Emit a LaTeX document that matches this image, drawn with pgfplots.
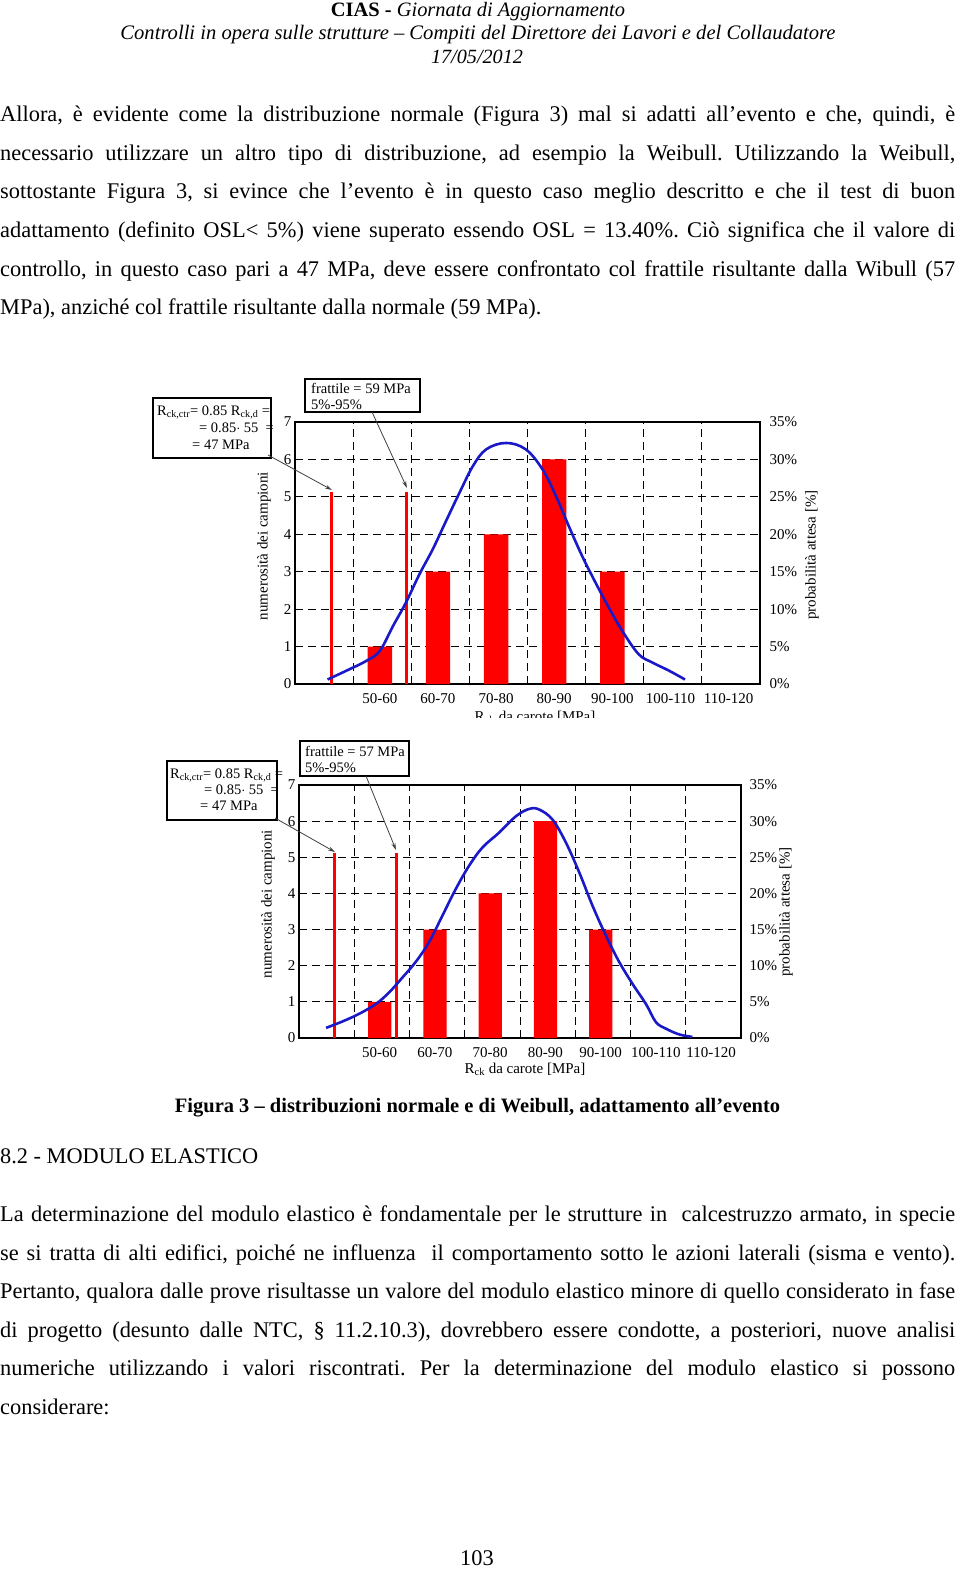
\documentclass[border=0pt]{standalone}
\usepackage{graphicx}
\usepackage{pgfplots}
\pgfplotsset{compat=1.18}
\usepackage{fontspec}
\setmainfont{Liberation Serif}
\usetikzlibrary{arrows.meta}
\frenchspacing
\definecolor{cblue}{RGB}{25,25,200}
\definecolor{cred}{RGB}{255,0,0}
\newcommand{\BL}[2]{\node[anchor=base west,inner sep=0pt] at (0,#1) {\fontsize{22.4}{26}\selectfont\makebox[955pt][s]{#2}};}
\newcommand{\NL}[2]{\node[anchor=base west,inner sep=0pt] at (0,#1) {\fontsize{22.4}{26}\selectfont #2};}
\newcommand{\tf}{\fontsize{15}{17}\selectfont}
\newcommand{\bxf}{\fontsize{14.5}{16}\selectfont}

\pgfplotsset{
  chart/.style={
    scale only axis, xmin=40, xmax=120, ymin=0, ymax=7,
    axis line style={line width=1.3pt, black},
    xtick={50,60,...,110}, xticklabels={},
    xmajorgrids, ymajorgrids,
    grid style={black, line width=1pt, dash pattern=on 8pt off 5pt},
    ytick={0,1,...,7}, yticklabels={0,1,2,3,4,5,6,7},
    major tick length=0pt,
    tick label style={font=\tf},
    xticklabel style={yshift=-6pt},
    extra x tick style={grid=none, major tick length=0pt},
    extra x tick labels={50-60,60-70,70-80,80-90,90-100,100-110,110-120},
  },
  rchart/.style={
    scale only axis, xmin=40, xmax=120, ymin=0, ymax=35,
    axis x line=none, axis y line*=right,
    axis line style={line width=1.3pt, black},
    ytick={0,5,...,35}, yticklabels={0\%,5\%,10\%,15\%,20\%,25\%,30\%,35\%},
    major tick length=0pt,
    tick label style={font=\tf},
  },
}

\begin{document}
\begin{tikzpicture}
\useasboundingbox (0,0) rectangle (960pt,-1574pt);
\fill[white] (0,0) rectangle (960pt,-1574pt);

% ---------- Chart 1 (normale) ----------
\begin{axis}[chart, at={(295pt,-684pt)}, anchor=south west, width=465pt, height=262pt,
  extra x ticks={54.6,64.6,74.6,84.6,94.6,104.6,114.6}]
\addplot[ybar, bar width=4.2, fill=cred, draw=none] coordinates {(54.6,1) (64.6,3) (74.6,4) (84.6,6) (94.6,3)};
\addplot[cred, line width=3pt] coordinates {(46.3,0) (46.3,5.14)};
\addplot[cred, line width=3pt] coordinates {(59.1,0) (59.1,5.14)};
\addplot[cblue, line width=2.6pt, smooth, tension=0.6] coordinates {
(45.6,0.12) (48.9,0.36) (52.3,0.62) (54.6,0.89) (56.9,1.56) (59.1,2.18) (61.4,2.93) (63.7,3.60)
(66.0,4.36) (68.3,5.11) (70.6,5.82) (72.9,6.27) (76.3,6.44) (79.7,6.27) (82.6,5.73) (84.9,5.02)
(87.1,4.22) (89.4,3.42) (91.7,2.71) (94.0,2.04) (96.3,1.42) (99.1,0.80) (101.4,0.58) (104.3,0.36)
(107.1,0.12)};
\end{axis}
\begin{axis}[rchart, at={(295pt,-684pt)}, anchor=south west, width=465pt, height=262pt,
  yticklabel style={xshift=6pt}]
\end{axis}

% ---------- Chart 2 (Weibull) ----------
\begin{axis}[chart, at={(299pt,-1038pt)}, anchor=south west, width=442pt, height=253pt,
  extra x ticks={54.6,64.6,74.6,84.6,94.6,104.6,114.6}]
\addplot[ybar, bar width=4.2, fill=cred, draw=none] coordinates {(54.6,1) (64.6,3) (74.6,4) (84.6,6) (94.6,3)};
\addplot[cred, line width=3pt] coordinates {(46.4,0) (46.4,5.13)};
\addplot[cred, line width=3pt] coordinates {(57.7,0) (57.7,5.13)};
\addplot[cblue, line width=2.6pt, smooth, tension=0.6] coordinates {
(44.9,0.28) (47.9,0.46) (50.9,0.67) (53.9,0.94) (56.3,1.26) (58.7,1.67) (61.2,2.12) (63.6,2.67)
(66.0,3.40) (68.4,4.13) (70.8,4.77) (73.2,5.27) (76.2,5.68) (79.3,6.14) (81.7,6.34) (83.5,6.32)
(85.9,6.04) (88.3,5.41) (90.7,4.59) (93.1,3.67) (95.5,2.85) (97.9,2.12) (100.4,1.49) (102.8,0.94)
(104.6,0.44) (106.4,0.26) (108.8,0.10) (111.2,0.03)};
\end{axis}
\begin{axis}[rchart, at={(299pt,-1038pt)}, anchor=south west, width=442pt, height=253pt,
  yticklabel style={xshift=5pt}]
\end{axis}

\begin{scope}[x=1pt,y=-1pt]
% header
\node[anchor=base,inner sep=0pt] at (478,16.5) {\resizebox{294pt}{!}{\textbf{CIAS -} \textit{Giornata di Aggiornamento}}};
\node[anchor=base,inner sep=0pt] at (478,40) {\resizebox{715pt}{!}{\textit{Controlli in opera sulle strutture – Compiti del Direttore dei Lavori e del Collaudatore}}};
\node[anchor=base,inner sep=0pt] at (477,63) {\resizebox{92pt}{!}{\textit{17/05/2012}}};
% paragraph 1
\BL{121.5}{Allora, è evidente come la distribuzione normale (Figura 3) mal si adatti all’evento e che, quindi, è}
\BL{160}{necessario utilizzare un altro tipo di distribuzione, ad esempio la Weibull. Utilizzando la Weibull,}
\BL{198.5}{sottostante Figura 3, si evince che l’evento è in questo caso meglio descritto e che il test di buon}
\BL{237}{adattamento (definito OSL< 5\%) viene superato essendo OSL = 13.40\%. Ciò significa che il valore di}
\BL{276}{controllo, in questo caso pari a 47 MPa, deve essere confrontato col frattile risultante dalla Wibull (57}
\NL{314.5}{MPa), anziché col frattile risultante dalla normale (59 MPa).}

% chart 1 annotations
\node[rotate=90,inner sep=0pt,font=\tf] at (264,546) {numerosità dei campioni};
\node[rotate=90,inner sep=0pt,font=\tf] at (812,555) {probabilità attesa [\%]};
\node[anchor=base,inner sep=0pt,font=\tf] at (535,721) {R\textsubscript{ck} da carote [MPa]};
\fill[white] (280,718) rectangle (800,735);
\draw[line width=1.2pt, fill=white] (153,398) rectangle (271,458);
\node[anchor=base west,inner sep=0pt,font=\bxf] at (157,415) {R\textsubscript{ck,ctr}= 0.85 R\textsubscript{ck,d} =};
\node[anchor=base east,inner sep=0pt,font=\bxf] at (274,432) {= 0.85$\cdot$ 55 \ =};
\node[anchor=base west,inner sep=0pt,font=\bxf] at (192,449) {= 47 MPa};
\draw[line width=1.2pt, fill=white] (305,379) rectangle (420,412);
\node[anchor=base west,inner sep=0pt,font=\bxf] at (311,393) {frattile = 59 MPa};
\node[anchor=base west,inner sep=0pt,font=\bxf] at (311,409) {5\%-95\%};
\draw[line width=0.8pt, black!75, -{Stealth[length=7pt,width=4pt]}] (268,455) -- (332,490);
\draw[line width=0.8pt, black!75, -{Stealth[length=7pt,width=4pt]}] (372,412) -- (407,488);

% chart 2 annotations
\node[rotate=90,inner sep=0pt,font=\tf] at (268,904) {numerosità dei campioni};
\node[rotate=90,inner sep=0pt,font=\tf] at (786,912) {probabilità attesa [\%]};
\node[anchor=base,inner sep=0pt,font=\tf] at (525,1073) {R\textsubscript{ck} da carote [MPa]};
\draw[line width=1.2pt, fill=white] (167,761) rectangle (277,820);
\node[anchor=base west,inner sep=0pt,font=\bxf] at (170,778) {R\textsubscript{ck,ctr}= 0.85 R\textsubscript{ck,d} =};
\node[anchor=base east,inner sep=0pt,font=\bxf] at (279,794) {= 0.85$\cdot$ 55 \ =};
\node[anchor=base west,inner sep=0pt,font=\bxf] at (200,810) {= 47 MPa};
\draw[line width=1.2pt, fill=white] (300,741) rectangle (409,776);
\node[anchor=base west,inner sep=0pt,font=\bxf] at (305,756) {frattile = 57 MPa};
\node[anchor=base west,inner sep=0pt,font=\bxf] at (305,772) {5\%-95\%};
\draw[line width=0.8pt, black!75, -{Stealth[length=7pt,width=4pt]}] (275,818) -- (335,852);
\draw[line width=0.8pt, black!75, -{Stealth[length=7pt,width=4pt]}] (366,776) -- (396,850);

% caption and section
\node[anchor=base,inner sep=0pt] at (477.5,1112) {\resizebox{605pt}{!}{\textbf{Figura 3 – distribuzioni normale e di Weibull, adattamento all’evento}}};
\node[anchor=base west,inner sep=0pt] at (0,1163) {\resizebox{258pt}{!}{8.2 - MODULO ELASTICO}};
% paragraph 2
\BL{1221.5}{La determinazione del modulo elastico è fondamentale per le strutture in \ calcestruzzo armato, in specie}
\BL{1260}{se si tratta di alti edifici, poiché ne influenza \ il comportamento sotto le azioni laterali (sisma e vento).}
\BL{1298.5}{Pertanto, qualora dalle prove risultasse un valore del modulo elastico minore di quello considerato in fase}
\BL{1337}{di progetto (desunto dalle NTC, § 11.2.10.3), dovrebbero essere condotte, a posteriori, nuove analisi}
\BL{1375.5}{numeriche utilizzando i valori riscontrati. Per la determinazione del modulo elastico si possono}
\NL{1414}{considerare:}
\node[anchor=base,inner sep=0pt] at (477,1565) {\fontsize{22.4}{26}\selectfont 103};
\end{scope}
\end{tikzpicture}
\end{document}
